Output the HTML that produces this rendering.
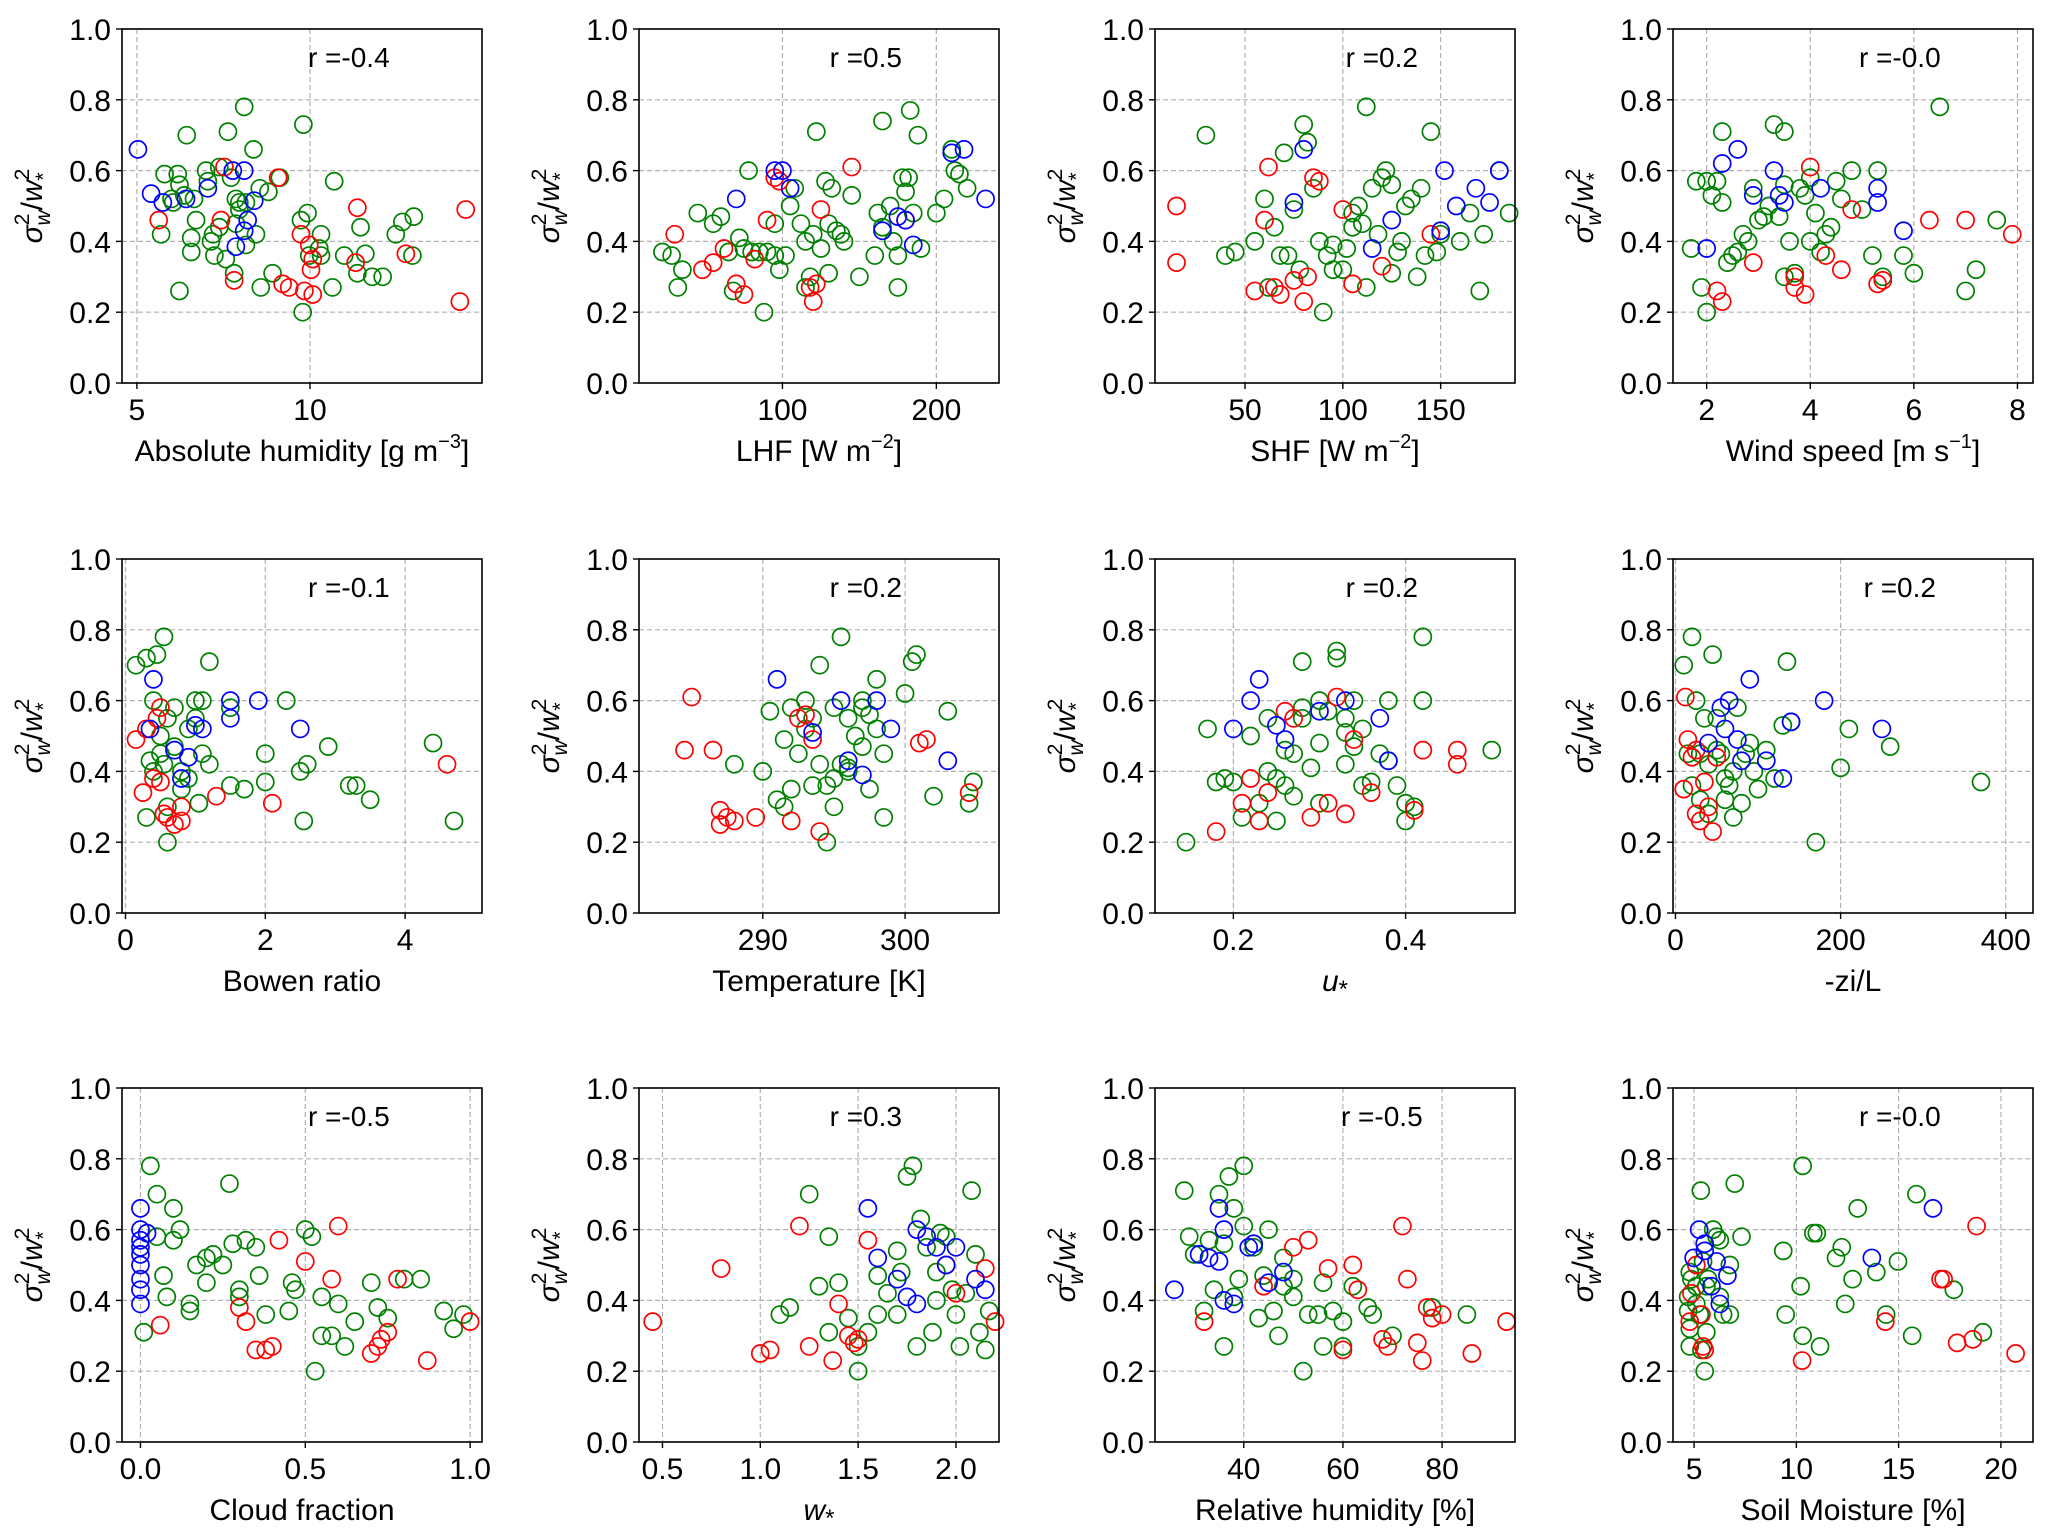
<!DOCTYPE html>
<html><head><meta charset="utf-8"><style>
html,body{margin:0;padding:0;background:#fff;}
svg{display:block;font-family:"Liberation Sans","DejaVu Sans",sans-serif;}
</style></head><body>
<svg id="fig" width="2067" height="1539" viewBox="0 0 2067 1539" xmlns="http://www.w3.org/2000/svg"></svg>
<script>
// ---- data (x, y) per panel and colour ----
const absHumGreen=[[8.1,0.78],[6.44,0.70],[7.63,0.71],[9.81,0.73],[8.37,0.66],[5.8,0.59],[6.18,0.59],[6.23,0.56],[7.0,0.60],[7.05,0.57],[7.72,0.58],[7.38,0.61],[10.7,0.57],[9.13,0.58],[8.55,0.55],[8.8,0.54],[6.0,0.52],[6.05,0.51],[6.65,0.52],[6.37,0.53],[7.86,0.52],[7.96,0.51],[8.15,0.51],[7.96,0.49],[6.71,0.46],[5.7,0.42],[6.57,0.41],[7.2,0.42],[7.38,0.44],[7.14,0.40],[7.86,0.45],[8.44,0.42],[8.15,0.39],[6.57,0.37],[7.24,0.36],[7.57,0.35],[7.81,0.31],[8.92,0.31],[8.58,0.27],[6.23,0.26],[9.74,0.46],[9.93,0.48],[10.32,0.42],[9.98,0.36],[10.27,0.38],[10.32,0.36],[10.99,0.36],[10.65,0.27],[11.37,0.31],[11.6,0.365],[11.46,0.44],[11.8,0.30],[12.1,0.30],[12.48,0.42],[12.67,0.455],[13.0,0.47],[12.96,0.36],[9.79,0.20]];
const absHumRed=[[7.53,0.61],[9.08,0.58],[5.63,0.46],[7.43,0.46],[9.74,0.42],[9.98,0.39],[10.08,0.35],[10.03,0.32],[11.37,0.495],[11.32,0.34],[7.81,0.29],[9.21,0.28],[9.4,0.27],[9.84,0.26],[10.08,0.25],[12.77,0.365],[14.5,0.49],[14.33,0.23]];
const absHumBlue=[[5.03,0.66],[5.41,0.535],[5.75,0.51],[6.42,0.52],[7.05,0.55],[7.77,0.60],[8.1,0.60],[8.39,0.515],[8.2,0.46],[8.1,0.43],[7.86,0.385]];

const lhfGreen=[[22,0.37],[28,0.36],[32,0.27],[35,0.32],[45,0.48],[55,0.45],[60,0.47],[65,0.37],[68,0.26],[72,0.41],[75,0.38],[78,0.60],[80,0.37],[85,0.37],[88,0.20],[90,0.37],[95,0.36],[98,0.32],[102,0.36],[105,0.50],[108,0.55],[112,0.45],[115,0.40],[118,0.30],[120,0.42],[122,0.71],[125,0.38],[128,0.57],[130,0.45],[132,0.55],[135,0.43],[138,0.42],[140,0.40],[145,0.53],[150,0.30],[160,0.36],[162,0.48],[165,0.74],[170,0.50],[172,0.40],[175,0.27],[178,0.58],[180,0.54],[182,0.58],[183,0.77],[185,0.48],[188,0.70],[190,0.38],[200,0.48],[205,0.52],[210,0.66],[212,0.60],[215,0.59],[220,0.55],[175,0.36],[130,0.31],[115,0.27],[165,0.44],[95,0.45]];
const lhfRed=[[30,0.42],[48,0.32],[55,0.34],[62,0.38],[70,0.28],[75,0.25],[82,0.35],[90,0.46],[95,0.58],[98,0.57],[118,0.27],[120,0.23],[122,0.28],[125,0.49],[145,0.61],[180,0.46]];
const lhfBlue=[[70,0.52],[95,0.60],[100,0.60],[105,0.55],[165,0.43],[175,0.47],[180,0.46],[185,0.39],[210,0.65],[218,0.66],[232,0.52]];

const shfGreen=[[30,0.70],[40,0.36],[45,0.37],[55,0.40],[60,0.52],[62,0.27],[65,0.44],[68,0.36],[70,0.65],[72,0.36],[75,0.49],[78,0.32],[80,0.73],[82,0.68],[85,0.55],[88,0.40],[90,0.20],[92,0.36],[95,0.39],[100,0.32],[102,0.38],[105,0.48],[108,0.50],[110,0.45],[112,0.78],[115,0.55],[118,0.42],[120,0.58],[122,0.60],[125,0.56],[128,0.37],[130,0.40],[132,0.50],[135,0.52],[138,0.30],[140,0.55],[142,0.36],[145,0.71],[148,0.37],[150,0.42],[160,0.40],[165,0.48],[170,0.26],[172,0.42],[180,0.60],[185,0.48],[112,0.27],[125,0.31],[95,0.32],[105,0.44]];
const shfRed=[[15,0.50],[15,0.34],[55,0.26],[60,0.46],[62,0.61],[65,0.27],[68,0.25],[75,0.29],[80,0.23],[82,0.30],[85,0.58],[88,0.57],[100,0.49],[105,0.28],[120,0.33],[145,0.42]];
const shfBlue=[[75,0.51],[80,0.66],[115,0.38],[125,0.46],[150,0.43],[152,0.60],[158,0.50],[168,0.55],[175,0.51],[180,0.60]];

const windGreen=[[1.7,0.38],[1.8,0.57],[1.9,0.27],[2.0,0.20],[2.0,0.57],[2.1,0.53],[2.2,0.57],[2.3,0.51],[2.3,0.71],[2.4,0.34],[2.5,0.36],[2.6,0.37],[2.7,0.42],[2.8,0.40],[2.9,0.55],[3.0,0.46],[3.1,0.47],[3.2,0.50],[3.3,0.73],[3.4,0.47],[3.5,0.56],[3.5,0.71],[3.6,0.40],[3.7,0.31],[3.8,0.55],[3.9,0.53],[4.0,0.58],[4.1,0.48],[4.2,0.37],[4.3,0.42],[4.4,0.44],[4.5,0.57],[4.6,0.52],[4.8,0.60],[5.0,0.49],[5.2,0.36],[5.3,0.60],[5.4,0.30],[5.8,0.36],[6.0,0.31],[6.5,0.78],[7.0,0.26],[7.2,0.32],[3.5,0.30],[4.0,0.40],[7.6,0.46]];
const windRed=[[2.2,0.26],[2.3,0.23],[2.9,0.34],[3.7,0.27],[3.9,0.25],[4.0,0.61],[4.3,0.36],[4.6,0.32],[4.8,0.49],[5.3,0.28],[5.4,0.29],[6.3,0.46],[7.0,0.46],[7.9,0.42],[3.7,0.30]];
const windBlue=[[2.0,0.38],[2.3,0.62],[2.6,0.66],[2.9,0.53],[3.3,0.60],[3.4,0.53],[3.5,0.51],[4.2,0.55],[5.3,0.51],[5.3,0.55],[5.8,0.43]];

const bowenGreen=[[0.15,0.70],[0.3,0.72],[0.4,0.60],[0.45,0.73],[0.55,0.78],[0.5,0.50],[0.5,0.45],[0.55,0.42],[0.6,0.20],[0.6,0.30],[0.6,0.55],[0.7,0.58],[0.7,0.47],[0.8,0.40],[0.8,0.35],[0.9,0.38],[1.0,0.60],[1.0,0.55],[1.05,0.31],[1.1,0.45],[1.2,0.42],[1.2,0.71],[1.5,0.58],[1.5,0.36],[1.7,0.35],[2.0,0.45],[2.0,0.37],[2.3,0.60],[2.5,0.40],[2.55,0.26],[2.6,0.42],[2.9,0.47],[3.2,0.36],[3.3,0.36],[3.5,0.32],[4.4,0.48],[4.7,0.26],[0.3,0.27],[0.4,0.40],[0.9,0.52],[1.1,0.60],[0.35,0.43]];
const bowenRed=[[0.15,0.49],[0.25,0.34],[0.3,0.52],[0.4,0.38],[0.45,0.55],[0.5,0.58],[0.55,0.28],[0.6,0.27],[0.7,0.25],[0.8,0.26],[0.8,0.30],[1.3,0.33],[2.1,0.31],[4.6,0.42],[0.5,0.37]];
const bowenBlue=[[0.35,0.52],[0.4,0.66],[0.7,0.46],[0.9,0.44],[1.0,0.53],[1.1,0.52],[1.5,0.55],[1.5,0.60],[1.9,0.60],[2.5,0.52],[0.8,0.38]];

const tempGreen=[[288,0.42],[290,0.40],[290.5,0.57],[291,0.32],[291.5,0.49],[292,0.58],[292,0.35],[292.5,0.45],[293,0.60],[293,0.52],[293.5,0.55],[294,0.70],[294,0.42],[294.5,0.20],[294.5,0.36],[295,0.30],[295,0.38],[295.5,0.42],[295.5,0.78],[296,0.40],[296,0.55],[296.5,0.50],[297,0.58],[297,0.47],[297.5,0.56],[297.5,0.35],[298,0.66],[298,0.52],[298.5,0.27],[298.5,0.45],[300,0.62],[300.5,0.71],[300.8,0.73],[302,0.33],[303,0.57],[304.5,0.31],[304.8,0.37],[291.5,0.30],[293.5,0.36],[296,0.41],[297,0.60],[295,0.58]];
const tempRed=[[284.5,0.46],[285,0.61],[286.5,0.46],[287,0.25],[287.5,0.27],[287,0.29],[288,0.26],[289.5,0.27],[292,0.26],[292.5,0.55],[293,0.56],[293.5,0.49],[294,0.23],[301,0.48],[301.5,0.49],[304.5,0.34]];
const tempBlue=[[291,0.66],[293.5,0.51],[295.5,0.60],[296,0.43],[297,0.39],[298,0.60],[299,0.52],[303,0.43]];

const ustarGreen=[[0.145,0.20],[0.17,0.52],[0.18,0.37],[0.19,0.38],[0.2,0.37],[0.21,0.27],[0.22,0.50],[0.23,0.31],[0.24,0.40],[0.25,0.26],[0.25,0.38],[0.26,0.36],[0.27,0.33],[0.27,0.45],[0.28,0.55],[0.28,0.58],[0.28,0.71],[0.29,0.41],[0.3,0.48],[0.3,0.31],[0.31,0.57],[0.32,0.72],[0.32,0.74],[0.33,0.42],[0.33,0.55],[0.34,0.60],[0.34,0.47],[0.35,0.36],[0.35,0.52],[0.36,0.37],[0.37,0.45],[0.38,0.60],[0.38,0.43],[0.39,0.36],[0.4,0.26],[0.4,0.31],[0.41,0.30],[0.42,0.78],[0.42,0.60],[0.5,0.46],[0.3,0.60],[0.26,0.46],[0.33,0.51],[0.24,0.55]];
const ustarRed=[[0.18,0.23],[0.21,0.31],[0.22,0.38],[0.23,0.26],[0.24,0.34],[0.26,0.57],[0.27,0.55],[0.29,0.27],[0.31,0.31],[0.32,0.61],[0.33,0.28],[0.34,0.49],[0.36,0.34],[0.41,0.29],[0.42,0.46],[0.46,0.42],[0.46,0.46]];
const ustarBlue=[[0.2,0.52],[0.22,0.60],[0.23,0.66],[0.25,0.53],[0.26,0.49],[0.3,0.57],[0.33,0.60],[0.37,0.55],[0.38,0.43]];

const ziLGreen=[[10,0.70],[20,0.78],[25,0.60],[30,0.45],[35,0.55],[40,0.42],[45,0.73],[50,0.55],[55,0.45],[60,0.38],[65,0.36],[70,0.40],[75,0.58],[80,0.31],[85,0.45],[90,0.48],[95,0.40],[100,0.35],[110,0.46],[120,0.38],[130,0.53],[135,0.71],[140,0.54],[170,0.20],[200,0.41],[210,0.52],[260,0.47],[370,0.37],[20,0.36],[30,0.32],[40,0.28],[50,0.46],[60,0.32],[70,0.27],[15,0.45]];
const ziLRed=[[10,0.35],[12,0.61],[15,0.49],[20,0.44],[25,0.28],[30,0.26],[35,0.37],[40,0.30],[45,0.23],[50,0.44],[25,0.46]];
const ziLBlue=[[40,0.48],[55,0.58],[60,0.52],[65,0.60],[75,0.49],[80,0.43],[90,0.66],[110,0.43],[130,0.38],[140,0.54],[180,0.60],[250,0.52]];

const cloudGreen=[[0.01,0.31],[0.03,0.78],[0.05,0.70],[0.07,0.47],[0.08,0.41],[0.1,0.66],[0.12,0.60],[0.15,0.39],[0.15,0.37],[0.17,0.50],[0.2,0.52],[0.2,0.45],[0.22,0.53],[0.25,0.50],[0.27,0.73],[0.28,0.56],[0.3,0.43],[0.3,0.41],[0.32,0.57],[0.35,0.55],[0.36,0.47],[0.38,0.36],[0.45,0.37],[0.46,0.45],[0.47,0.43],[0.5,0.60],[0.52,0.58],[0.53,0.20],[0.55,0.41],[0.55,0.30],[0.58,0.30],[0.6,0.39],[0.62,0.27],[0.65,0.34],[0.7,0.45],[0.72,0.38],[0.75,0.35],[0.8,0.46],[0.85,0.46],[0.92,0.37],[0.95,0.32],[0.98,0.36],[0.1,0.57],[0.05,0.58]];
const cloudRed=[[0.06,0.33],[0.3,0.38],[0.32,0.34],[0.35,0.26],[0.38,0.26],[0.4,0.27],[0.42,0.57],[0.5,0.51],[0.58,0.46],[0.6,0.61],[0.7,0.25],[0.72,0.27],[0.75,0.31],[0.78,0.46],[0.87,0.23],[1.0,0.34],[0.73,0.29]];
const cloudBlue=[[0.0,0.66],[0.0,0.60],[0.0,0.57],[0.0,0.55],[0.0,0.53],[0.0,0.50],[0.0,0.46],[0.0,0.43],[0.0,0.39],[0.02,0.59]];

const wstarGreen=[[1.1,0.36],[1.15,0.38],[1.25,0.70],[1.3,0.44],[1.35,0.31],[1.4,0.45],[1.45,0.35],[1.5,0.20],[1.5,0.27],[1.55,0.31],[1.6,0.47],[1.6,0.36],[1.65,0.42],[1.7,0.54],[1.72,0.48],[1.75,0.75],[1.78,0.78],[1.8,0.27],[1.82,0.63],[1.85,0.55],[1.88,0.31],[1.9,0.48],[1.92,0.59],[1.95,0.58],[1.98,0.43],[2.0,0.36],[2.02,0.27],[2.05,0.42],[2.08,0.71],[2.1,0.53],[2.12,0.31],[2.15,0.26],[2.17,0.37],[1.35,0.58],[1.7,0.36],[1.9,0.40]];
const wstarRed=[[0.45,0.34],[0.8,0.49],[1.0,0.25],[1.05,0.26],[1.2,0.61],[1.25,0.27],[1.37,0.23],[1.4,0.39],[1.45,0.30],[1.5,0.29],[1.55,0.57],[1.95,0.50],[2.0,0.42],[2.15,0.49],[2.2,0.34],[1.48,0.28]];
const wstarBlue=[[1.55,0.66],[1.6,0.52],[1.7,0.46],[1.75,0.41],[1.8,0.39],[1.8,0.60],[1.85,0.58],[1.9,0.55],[1.95,0.50],[2.0,0.55],[2.15,0.43],[2.1,0.46]];

const rhGreen=[[28,0.71],[29,0.58],[30,0.53],[32,0.37],[33,0.57],[34,0.43],[35,0.70],[36,0.27],[36,0.56],[37,0.75],[38,0.66],[38,0.41],[39,0.46],[40,0.78],[40,0.61],[42,0.55],[43,0.35],[44,0.47],[45,0.60],[46,0.37],[47,0.30],[48,0.52],[50,0.41],[52,0.20],[53,0.36],[55,0.36],[56,0.45],[58,0.37],[60,0.34],[60,0.27],[62,0.44],[65,0.38],[66,0.36],[70,0.30],[78,0.38],[85,0.36],[48,0.44],[50,0.46],[56,0.27]];
const rhRed=[[32,0.34],[44,0.44],[50,0.55],[53,0.57],[57,0.49],[60,0.26],[62,0.50],[63,0.43],[68,0.29],[69,0.27],[72,0.61],[73,0.46],[75,0.28],[76,0.23],[77,0.38],[80,0.36],[86,0.25],[93,0.34],[78,0.35]];
const rhBlue=[[26,0.43],[31,0.53],[33,0.52],[35,0.66],[35,0.51],[36,0.60],[38,0.39],[41,0.55],[42,0.56],[45,0.45],[48,0.48],[36,0.40]];

const soilGreen=[[5.33,0.71],[6.99,0.73],[10.31,0.78],[15.87,0.70],[13.0,0.66],[5.93,0.60],[6.1,0.58],[7.32,0.58],[6.26,0.57],[9.36,0.54],[10.83,0.59],[11.0,0.59],[12.22,0.55],[11.94,0.52],[14.97,0.51],[13.91,0.48],[12.75,0.46],[17.7,0.43],[10.21,0.44],[12.39,0.39],[9.48,0.36],[14.39,0.36],[10.31,0.30],[11.16,0.27],[15.66,0.30],[19.12,0.31],[5.52,0.20],[6.75,0.50],[4.79,0.48],[4.87,0.46],[5.11,0.44],[4.71,0.41],[5.6,0.44],[6.26,0.41],[6.42,0.36],[6.75,0.36],[4.71,0.37],[4.79,0.32],[5.28,0.36],[5.6,0.31],[4.79,0.27],[5.36,0.26],[5.69,0.46],[5.11,0.39],[5.44,0.51]];
const soilRed=[[18.81,0.61],[17.05,0.46],[17.2,0.46],[14.35,0.34],[17.86,0.28],[18.63,0.29],[20.72,0.25],[10.28,0.23],[4.87,0.42],[4.79,0.34],[5.44,0.27],[5.52,0.26],[5.11,0.50],[5.36,0.36]];
const soilBlue=[[5.25,0.60],[5.52,0.56],[5.52,0.54],[4.98,0.52],[6.1,0.51],[6.63,0.47],[5.85,0.44],[6.26,0.39],[16.68,0.66],[13.69,0.52]];

// tick values and labels
const yTicks=[0,0.2,0.4,0.6,0.8,1.0];
const yTickLabels=["0.0","0.2","0.4","0.6","0.8","1.0"];
const rValues=["-0.4","0.5","0.2","-0.0","-0.1","0.2","0.2","0.2","-0.5","0.3","-0.5","-0.0"];
const xTicksList=[[5,10],[100,200],[50,100,150],[2,4,6,8],[0,2,4],[290,300],[0.2,0.4],[0,200,400],[0,0.5,1.0],[0.5,1.0,1.5,2.0],[40,60,80],[5,10,15,20]];
const xTickLabelsList=[["5","10"],["100","200"],["50","100","150"],["2","4","6","8"],["0","2","4"],["290","300"],["0.2","0.4"],["0","200","400"],["0.0","0.5","1.0"],["0.5","1.0","1.5","2.0"],["40","60","80"],["5","10","15","20"]];

// ---- layout ----
const xDomains=[[4.57,14.97],[6.8,240.7],[4,188],[1.35,8.3],[-0.05,5.1],[281.3,306.6],[0.109,0.527],[-3,433],[-0.056,1.036],[0.38,2.22],[22.1,94.7],[3.97,21.57]];
const seriesSets=[[absHumGreen,absHumRed,absHumBlue],[lhfGreen,lhfRed,lhfBlue],[shfGreen,shfRed,shfBlue],[windGreen,windRed,windBlue],[bowenGreen,bowenRed,bowenBlue],[tempGreen,tempRed,tempBlue],[ustarGreen,ustarRed,ustarBlue],[ziLGreen,ziLRed,ziLBlue],[cloudGreen,cloudRed,cloudBlue],[wstarGreen,wstarRed,wstarBlue],[rhGreen,rhRed,rhBlue],[soilGreen,soilRed,soilBlue]];
const xLabelHTML=[
 'Absolute humidity [g  m<tspan dy="-13" font-size="20">−3</tspan><tspan dy="13">]</tspan>',
 'LHF [W m<tspan dy="-13" font-size="20">−2</tspan><tspan dy="13">]</tspan>',
 'SHF [W m<tspan dy="-13" font-size="20">−2</tspan><tspan dy="13">]</tspan>',
 'Wind speed [m s<tspan dy="-13" font-size="20">−1</tspan><tspan dy="13">]</tspan>',
 'Bowen ratio','Temperature [K]',
 '<tspan font-style="italic">u</tspan><tspan dy="6" font-size="24">*</tspan>',
 '-zi/L','Cloud fraction',
 '<tspan font-style="italic">w</tspan><tspan dy="6" font-size="24">*</tspan>',
 'Relative humidity [%]','Soil Moisture [%]'];
const seriesColors=["#008000","#ff0000","#0000ff"];
const seriesNames=["green","red","blue"];
const lefts=[122,639,1155,1673], tops=[29,559,1088], W=360, H=354;
const NS="http://www.w3.org/2000/svg";
const fig=document.getElementById('fig');
function mk(tag,attrs,parent){const e=document.createElementNS(NS,tag);for(const k in attrs)e.setAttribute(k,attrs[k]);parent.appendChild(e);return e;}

for(let p=0;p<12;p++){
  const L=lefts[p%4], T=tops[Math.floor(p/4)];
  const [x0,x1]=xDomains[p];
  const sx=v=>L+(v-x0)/(x1-x0)*W;
  const sy=v=>T+H-v*H;
  const g=mk('g',{},fig);
  
  
  const grid=mk('g',{stroke:'#b0b0b0','stroke-width':1.2,'stroke-dasharray':'5,3'},g);
  
  
  xTicksList[p].forEach(v=>{mk('line',{x1:sx(v),x2:sx(v),y1:T,y2:T+H},grid);});
  yTicks.forEach(v=>{mk('line',{x1:L,x2:L+W,y1:sy(v),y2:sy(v)},grid);});
  seriesSets[p].forEach((ser,si)=>{
    const sg=mk('g',{fill:'none',stroke:seriesColors[si],'stroke-width':1.7},g);
    
    
    ser.forEach(d=>{
      const c=mk('circle',{cx:sx(d[0]),cy:sy(d[1]),r:8.5},sg);
      
      
    });
  });
  const fr=mk('rect',{x:L,y:T,width:W,height:H,fill:'none',stroke:'#000','stroke-width':1.6},g);
  
  
  const yt=mk('g',{'font-size':30,'text-anchor':'end',fill:'#000'},g);
  
  
  yTicks.forEach((v,i)=>{
    mk('line',{x1:L-6,x2:L,y1:sy(v),y2:sy(v),stroke:'#000','stroke-width':1.4},yt);
    const t=mk('text',{x:L-11,y:sy(v)+11},yt);t.textContent=yTickLabels[i];
  });
  const xt=mk('g',{'font-size':30,'text-anchor':'middle',fill:'#000'},g);
  
  
  xTicksList[p].forEach((v,i)=>{
    mk('line',{x1:sx(v),x2:sx(v),y1:T+H,y2:T+H+6,stroke:'#000','stroke-width':1.4},xt);
    const t=mk('text',{x:sx(v),y:T+H+37},xt);t.textContent=xTickLabelsList[p][i];
  });
  const xl=mk('text',{x:L+W/2,y:T+H+78,'font-size':30,'text-anchor':'middle','xml:space':'preserve'},g);
  
  
  xl.innerHTML=xLabelHTML[p];
  const yl=mk('text',{x:0,y:0,'font-size':30,'text-anchor':'middle',transform:`translate(${L-80},${T+H/2}) rotate(-90)`},g);
  
  
  yl.innerHTML='<tspan font-style="italic">σ</tspan><tspan font-size="21" dy="-13">2</tspan><tspan font-size="21" font-style="italic" dx="-12" dy="21">w</tspan><tspan dy="-8">/</tspan><tspan font-style="italic">w</tspan><tspan font-size="21" dy="-13">2</tspan><tspan font-size="21" dx="-12" dy="21">*</tspan>';
  const rt=mk('text',{x:L+0.63*W,y:T+38,'font-size':28,'text-anchor':'middle'},g);
  
  
  rt.textContent='r ='+rValues[p];
}
</script>
</body></html>
